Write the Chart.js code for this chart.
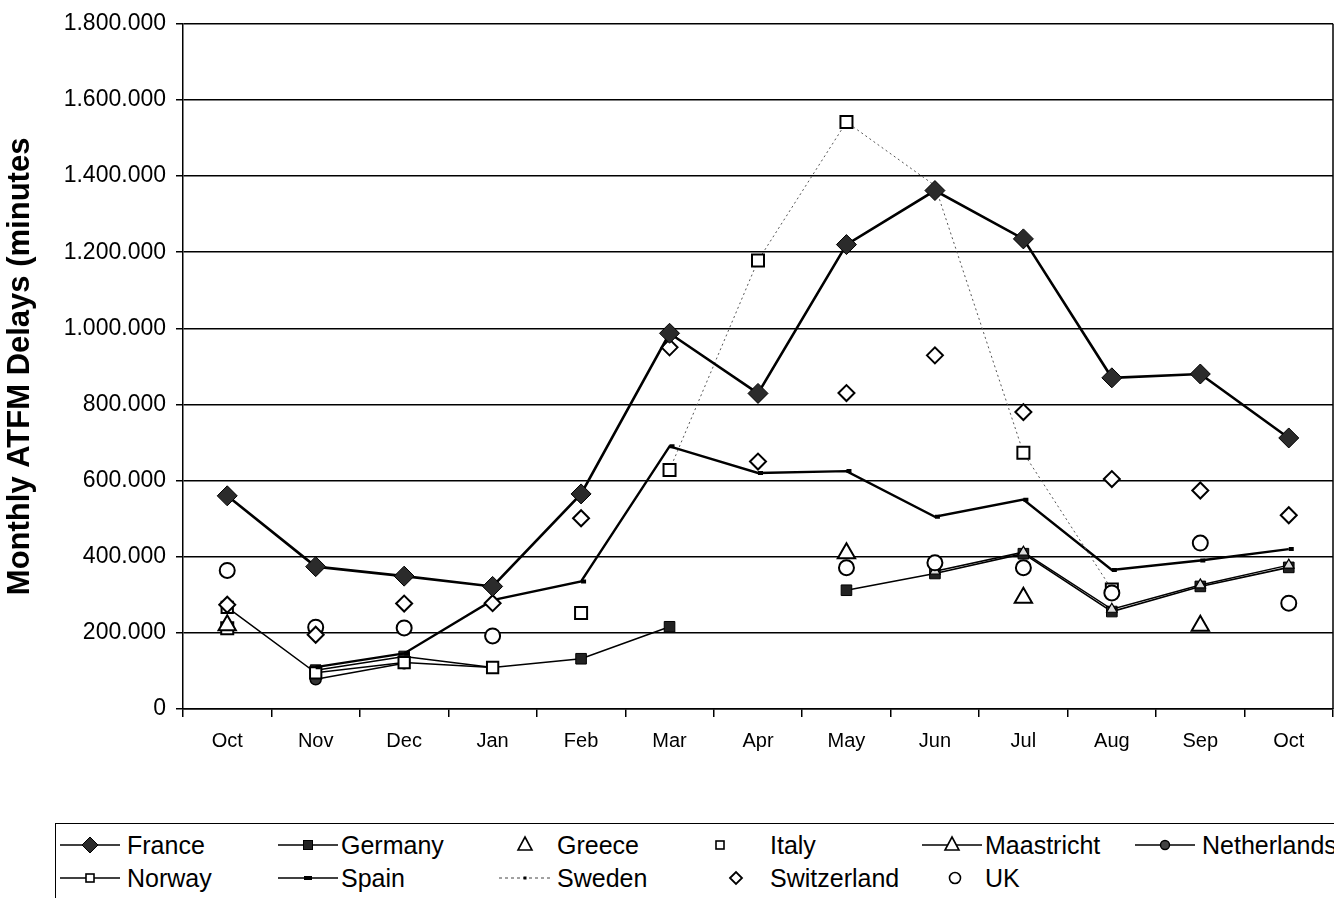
<!DOCTYPE html>
<html><head><meta charset="utf-8">
<script src="https://cdn.jsdelivr.net/npm/chart.js@4.4.0/dist/chart.umd.min.js"></script>
<style>
html,body{margin:0;padding:0;background:#fff;width:1334px;height:898px;overflow:hidden;position:relative;}
#wrap{position:absolute;left:0;top:0;width:1334px;height:793px;overflow:hidden;}
#legendBox{position:absolute;left:55px;top:823px;width:1320px;height:95px;border:1.5px solid #000;box-sizing:border-box;}
.lt{position:absolute;font-family:"Liberation Sans",Arial,sans-serif;font-size:25px;line-height:30px;height:30px;color:#000;white-space:nowrap;}
.ls{position:absolute;width:64px;height:30px;}
</style></head>
<body>
<div id="wrap"><canvas id="c" width="1345" height="793"></canvas></div>
<div id="legendBox"></div>
<div id="legend"></div>
<script>
// ---- data (minutes of ATFM delay) ----
const months = ['Oct','Nov','Dec','Jan','Feb','Mar','Apr','May','Jun','Jul','Aug','Sep','Oct'];
const france      = [560000,374000,349000,322000,565000,987000,829000,1220000,1362000,1235000,870000,880000,712000];
const germany     = [null,102000,138000,109000,132000,216000,null,312000,356000,408000,256000,322000,372000];
const greece      = [220000,null,null,null,null,null,null,409000,null,292000,null,219000,null];
const italy       = [212000,null,null,null,252000,628000,1178000,1542000,1375000,673000,314000,null,null];
const maastricht  = [null,null,null,null,null,null,null,null,362000,412000,262000,326000,378000];
const netherlands = [null,78000,120000,null,null,null,null,null,null,null,null,null,null];
const norway      = [267000,95000,122000,109000,null,null,null,null,null,null,null,null,null];
const spain       = [null,110000,146000,286000,335000,690000,620000,625000,505000,550000,365000,390000,420000];
const sweden      = [null,null,null,null,null,null,null,null,null,null,null,null,null];
const switzerland = [274000,195000,277000,278000,501000,950000,650000,830000,929000,780000,604000,574000,509000];
const uk          = [364000,215000,213000,192000,null,null,null,371000,384000,371000,305000,436000,278000];
const yTitle = 'Monthly ATFM Delays (minutes';
const yMax = 1800000, yStep = 200000;

const FONT = '"Liberation Sans", Arial, sans-serif';
const fmt = v => String(v).replace(/\B(?=(\d{3})+(?!\d))/g, '.');

const noLine = {showLine:false};
const datasets = [
  {label:'France', data:france, borderColor:'#000', borderWidth:2.6, pointStyle:'rectRot', pointRadius:10, pointBackgroundColor:'#2b2b2b', pointBorderColor:'#000', pointBorderWidth:1, order:0},
  {label:'Switzerland', data:switzerland, ...noLine, pointStyle:'rectRot', pointRadius:8, pointBackgroundColor:'#fff', pointBorderColor:'#000', pointBorderWidth:2, order:1},
  {label:'UK', data:uk, ...noLine, pointStyle:'circle', pointRadius:7.5, pointBackgroundColor:'#fff', pointBorderColor:'#000', pointBorderWidth:2, order:2},
  {label:'Greece', data:greece, ...noLine, pointStyle:'triangle', pointRadius:10, pointBackgroundColor:'#fff', pointBorderColor:'#000', pointBorderWidth:2, order:3},
  {label:'Italy', data:italy, borderColor:'#555', borderWidth:1, borderDash:[2,3], segment:{borderColor:c => c.p0DataIndex >= 5 ? '#555' : 'rgba(0,0,0,0)'}, pointStyle:'rect', pointRadius:italy.map((v,i) => i === 8 ? 0 : 8.5), pointBackgroundColor:'#fff', pointBorderColor:'#000', pointBorderWidth:2, order:4},
  {label:'Spain', data:spain, borderColor:'#000', borderWidth:2.4, pointStyle:'dash', pointRadius:5, pointBorderColor:'#000', pointBorderWidth:4, order:5},
  {label:'Norway', data:norway, borderColor:'#000', borderWidth:1.5, pointStyle:'rect', pointRadius:8, pointBackgroundColor:'#fff', pointBorderColor:'#000', pointBorderWidth:2, order:6},
  {label:'Maastricht', data:maastricht, borderColor:'#000', borderWidth:1.5, pointStyle:'triangle', pointRadius:6, pointBackgroundColor:'#ddd', pointBorderColor:'#000', pointBorderWidth:1.2, order:7},
  {label:'Germany', data:germany, borderColor:'#000', borderWidth:1.6, pointStyle:'rect', pointRadius:7.5, pointBackgroundColor:'#222', pointBorderColor:'#000', pointBorderWidth:1, order:8},
  {label:'Netherlands', data:netherlands, borderColor:'#000', borderWidth:1.5, pointStyle:'circle', pointRadius:5.5, pointBackgroundColor:'#333', pointBorderColor:'#000', pointBorderWidth:1.5, order:9},
  {label:'Sweden', data:sweden, borderColor:'#555', borderWidth:1, borderDash:[2,3], pointStyle:'dash', pointRadius:3, order:10}
];
datasets.forEach(d => { d.tension = 0; d.spanGaps = false; d.fill = false; });

const frame = {
  id:'frame',
  beforeDraw(ch){ const c=ch.ctx; c.save(); c.fillStyle='#fff'; c.fillRect(0,0,ch.width,ch.height); c.restore(); },
  afterDatasetsDraw(ch){
    const a = ch.chartArea, c = ch.ctx;
    c.save(); c.strokeStyle='#000'; c.lineWidth=1.5;
    c.beginPath(); c.moveTo(a.right, a.top); c.lineTo(a.right, a.bottom); c.stroke();
    c.restore();
  }
};

new Chart(document.getElementById('c'), {
  type:'line',
  data:{labels:months, datasets},
  plugins:[frame],
  options:{
    responsive:false, animation:false, devicePixelRatio:1,
    layout:{padding:{left:0, right:1, top:22, bottom:28}},
    plugins:{legend:{display:false}, tooltip:{enabled:false}},
    scales:{
      x:{
        offset:true,
        afterFit(s){ s.paddingLeft = 0; s.paddingRight = 0; },
        grid:{offset:true, drawOnChartArea:false, drawTicks:true, tickLength:8, color:'#000', lineWidth:1.5},
        border:{display:true, color:'#000', width:1.5},
        ticks:{color:'#000', font:{family:FONT, size:20}, padding:12, maxRotation:0, autoSkip:false}
      },
      y:{
        min:0, max:yMax,
        afterFit(s){ s.width = 183; },
        grid:{color:'#000', lineWidth:1.5, drawTicks:true, tickLength:7},
        border:{display:true, color:'#000', width:1.5},
        ticks:{stepSize:yStep, callback:fmt, color:'#000', font:{family:FONT, size:23}, padding:10},
        title:{display:true, text:yTitle, color:'#000', font:{family:FONT, size:31, weight:'bold'}, padding:{top:2, bottom:0}}
      }
    }
  }
});

// ---- HTML legend (boxed, two rows, aligned columns) ----
function marker(t, cx){
  const cy = 15;
  switch(t){
    case 'fdiamond': return `<polygon points="${cx-8},${cy} ${cx},${cy-8} ${cx+8},${cy} ${cx},${cy+8}" fill="#2b2b2b" stroke="#000" stroke-width="1"/>`;
    case 'odiamond': return `<polygon points="${cx-6},${cy} ${cx},${cy-6} ${cx+6},${cy} ${cx},${cy+6}" fill="#fff" stroke="#000" stroke-width="1.8"/>`;
    case 'fsquare': return `<rect x="${cx-4.5}" y="${cy-4.5}" width="9" height="9" fill="#222" stroke="#000"/>`;
    case 'osquare': return `<rect x="${cx-4}" y="${cy-4}" width="8" height="8" fill="#fff" stroke="#000" stroke-width="1.6"/>`;
    case 'otriangle': return `<polygon points="${cx},${cy-8} ${cx+7},${cy+5} ${cx-7},${cy+5}" fill="#fff" stroke="#000" stroke-width="1.6"/>`;
    case 'ocircle': return `<circle cx="${cx}" cy="${cy}" r="5.5" fill="#fff" stroke="#000" stroke-width="1.6"/>`;
    case 'fcircle': return `<circle cx="${cx}" cy="${cy}" r="4.5" fill="#444" stroke="#000" stroke-width="1.4"/>`;
    case 'dash': return `<rect x="${cx-4}" y="${cy-2}" width="8" height="4" fill="#000"/>`;
    case 'dot': return `<rect x="${cx-1.5}" y="${cy-1.5}" width="3" height="3" fill="#000"/>`;
  }
  return '';
}
const legendItems = [
  {label:'France', row:0, sx:58, mk:'fdiamond', line:'solid', tx:127},
  {label:'Germany', row:0, sx:276, mk:'fsquare', line:'solid', tx:341},
  {label:'Greece', row:0, sx:493, mk:'otriangle', line:null, tx:557},
  {label:'Italy', row:0, sx:688, mk:'osquare', line:null, tx:770},
  {label:'Maastricht', row:0, sx:920, mk:'otriangle', line:'solid', tx:985},
  {label:'Netherlands', row:0, sx:1133, mk:'fcircle', line:'solid', tx:1202},
  {label:'Norway', row:1, sx:58, mk:'osquare', line:'solid', tx:127},
  {label:'Spain', row:1, sx:276, mk:'dash', line:'solid', tx:341},
  {label:'Sweden', row:1, sx:493, mk:'dot', line:'dash', tx:557},
  {label:'Switzerland', row:1, sx:704, mk:'odiamond', line:null, tx:770},
  {label:'UK', row:1, sx:923, mk:'ocircle', line:null, tx:985}
];
const rowY = [845, 878];
let html = '';
legendItems.forEach(it => {
  const top = rowY[it.row] - 15;
  let ln = '';
  if (it.line === 'solid') ln = `<line x1="2" y1="15" x2="62" y2="15" stroke="#000" stroke-width="1.6"/>`;
  if (it.line === 'dash') ln = `<line x1="6" y1="15" x2="58" y2="15" stroke="#444" stroke-width="1" stroke-dasharray="3,3"/>`;
  html += `<svg class="ls" style="left:${it.sx}px;top:${top}px" viewBox="0 0 64 30">${ln}${marker(it.mk, 32)}</svg>`;
  html += `<div class="lt" style="left:${it.tx}px;top:${top}px">${it.label}</div>`;
});
document.getElementById('legend').innerHTML = html;
</script>
</body></html>
